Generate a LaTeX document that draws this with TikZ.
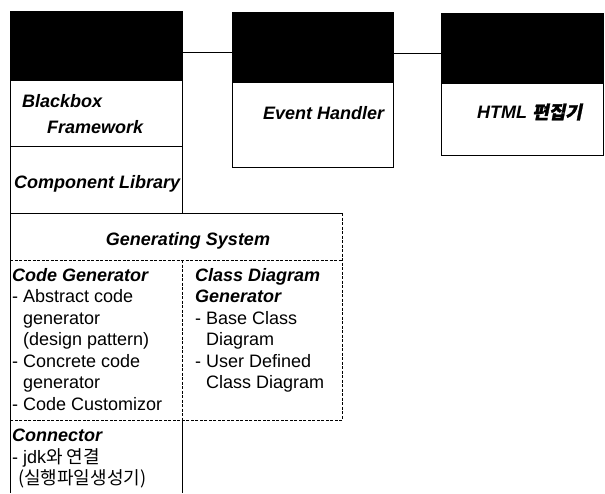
\documentclass[tikz,border=0pt]{standalone}
\usepackage{fontspec}
\setmainfont{Liberation Sans}
\newfontfamily\kr{Noto Sans CJK KR}
\newfontfamily\krbi{Noto Sans CJK KR}[FakeSlant=0.2,FakeBold=1.5]
\begin{document}
\begin{tikzpicture}[x=1pt,y=-1pt,
  box/.style={draw,line width=0.8pt,minimum width=#1,anchor=north west,inner sep=0pt},
  head/.style={fill=black,draw=black,line width=0.8pt,anchor=north west,inner sep=0pt},
  ttl/.style={font=\fontsize{18}{21.5}\selectfont\bfseries\itshape,inner sep=0pt},
  txt/.style={font=\fontsize{18}{21.5}\selectfont,inner sep=0pt,align=left,anchor=north west},
  dsh/.style={line width=0.8pt,dash pattern=on 3pt off 1.5pt},
  link/.style={line width=0.8pt}]
\useasboundingbox (0,0) rectangle (605,493);
% left column
\node[head,minimum width=172pt,minimum height=69pt] (lhead) at (10,11) {};
\node[box=172pt,minimum height=66pt] (lbb) at (10,80) {};
\node[box=172pt,minimum height=67pt] (lcl) at (10,146) {};
% event handler
\node[head,minimum width=161pt,minimum height=70pt] (ehead) at (232,12) {};
\node[box=161pt,minimum height=85pt] (ebody) at (232,82) {};
% html
\node[head,minimum width=162pt,minimum height=70pt] (hhead) at (441,13) {};
\node[box=162pt,minimum height=72pt] (hbody) at (441,83) {};
% connectors
\draw[link] ([yshift=-6.5pt]lhead.east) -- ([yshift=-5pt]ehead.west);
\draw[link] ([yshift=-6pt]ehead.east) -- ([yshift=-5pt]hhead.west);
% generating system
\coordinate (gsTL) at (10,213);
\coordinate (gsTR) at (342,213);
\coordinate (gsML) at (10,260);
\coordinate (gsMR) at (342,260);
\coordinate (gsBL) at (10,420);
\coordinate (gsBR) at (342,420);
\coordinate (divT) at (182,260);
\coordinate (divB) at (182,420);
\coordinate (conBL) at (10,493);
\coordinate (conBR) at (182,493);
\draw[line width=0.8pt] (gsBL) -- (gsTL) -- (gsTR);
\draw[dsh] (gsTR) -- (gsBR) -- (gsBL);
\draw[dsh] (gsML) -- (gsMR);
\draw[dsh] (divT) -- (divB);
\draw[line width=0.8pt] (gsBL) -- (conBL);
\draw[line width=0.8pt] (divB) -- (conBR);
% texts
\node[ttl,anchor=west] (tbb1) at (22,101) {Blackbox};
\node[ttl,anchor=west] (tbb2) at (47,127) {Framework};
\node[ttl,anchor=west] (tcl) at (14,184) {Component Library};
\node[ttl,anchor=west] (teh) at (263,113) {Event Handler};
\node[ttl,anchor=west] (thtml) at (477,112) {HTML {\krbi 편집기}};
\node[ttl] (tgs) at (188,241) {Generating System};
\node[txt] (tcg) at (12,268) {{\bfseries\itshape Code Generator}\\
- Abstract code\\
\phantom{- }generator\\
\phantom{- }(design pattern)\\
- Concrete code\\
\phantom{- }generator\\
- Code Customizor};
\node[txt] (tcdg) at (195,268) {{\bfseries\itshape Class Diagram}\\
{\bfseries\itshape Generator}\\
- Base Class\\
\phantom{- }Diagram\\
- User Defined\\
\phantom{- }Class Diagram};
\node[txt] (tcon) at (12,429) {{\bfseries\itshape Connector}\\
- jdk{\kr 와 연결}\\
\phantom{-}{\kr (실행파일생성기)}};
\end{tikzpicture}
\end{document}
